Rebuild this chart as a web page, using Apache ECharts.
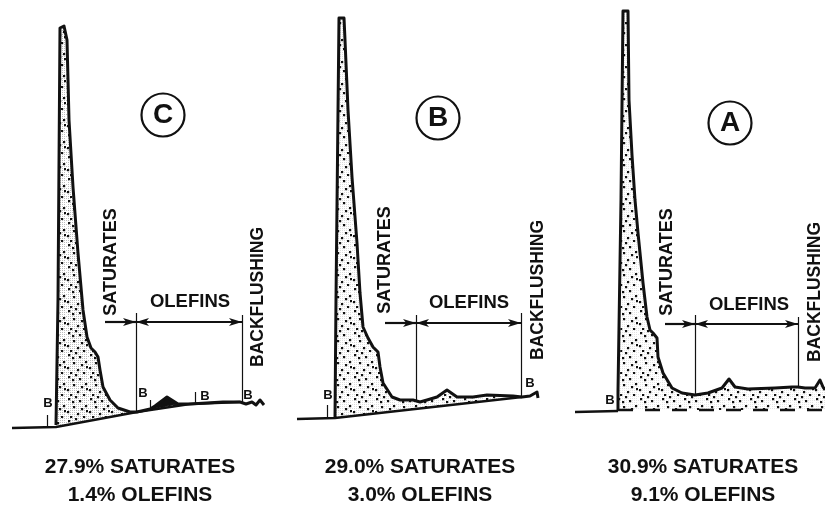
<!DOCTYPE html>
<html><head><meta charset="utf-8">
<script src="https://cdn.jsdelivr.net/npm/echarts@6/dist/echarts.min.js"></script>
<style>html,body{margin:0;padding:0;background:#fff}#c{width:825px;height:505px}</style>
</head><body><div id="c"></div>
<script>
// ---- Data (x: retention units, y: detector response units) ----
const curveC = [[56,5],[58,130],[60,402],[64,404],[67,390],[69,310],[73,243],[78,177],[83,120],[87,93],[91,82],[95,78],[98,73],[100,60],[103,43],[110,30],[118,22],[130,18],[137,18],[150,21],[155,24],[167,33],[178,26],[190,26],[223,28],[240,28],[246,26],[252,28],[256,25],[260,30],[264,25]];
const baseC = [[12,2],[56,3],[137,18],[190,26],[240,28]];
const curveB = [[60,12],[61,130],[64,412],[69,412],[70,390],[73,320],[77,253],[82,187],[85,137],[88,103],[93,92],[98,83],[103,78],[105,63],[108,47],[117,33],[125,30],[138,30],[145,28],[152,30],[162,33],[172,40],[182,33],[198,33],[212,35],[238,34],[247,33],[255,34],[262,38],[263,32]];
const baseB = [[22,11],[60,12],[247,33]];
const curveA = [[68,19],[68,39],[70,40],[71,230],[73,419],[78,419],[79,330],[82,275],[85,230],[88,197],[93,147],[97,113],[100,100],[103,97],[107,92],[108,73],[113,57],[122,42],[132,37],[145,35],[158,37],[172,42],[179,51],[185,43],[198,41],[225,42],[242,43],[248,43],[255,42],[265,42],[270,50],[273,43],[275,40]];
const leadA = [[25,18],[68,19]];
const baseA = [[68,20],[275,20]];
// small olefin peak of sample C shown solid: [from, to]
const solidPeakC = [150,178];

// region dividers: [x, yLow, yHigh]
const dividersC = [[136,18,117],[242,28,115]];
const dividersB = [[141,30,115],[246,34,117]];
const dividersA = [[145,35,115],[248,44,113]];
// arrow rows: [saturatesStart, divider1, divider2, y]
const arrowsC = [105,136,242,108];
const arrowsB = [110,141,246,107];
const arrowsA = [115,145,248,106];
// "B" marker ticks [x, yTop, yBottom] and "B" letters [x, y]
const ticksC = [[47,15,3],[150,30,22],[195,38,27]];
const bLabelsC = [[48,27],[143,37],[205,34],[248,35]];
const ticksB = [[52,25,12]];
const bLabelsB = [[53,35],[255,47]];
const ticksA = [];
const bLabelsA = [[60,30]];
// sample letters and positions
const sampleNames = ['C','B','A'];
const sampleMarks = [[163,315],[163,312],[180,307]];
// annotation text positions [saturates, olefins, backflushing]
const satPos = [[111,168],[110,170],[117,168]];
const olePos = [[190,128],[194,127],[199,125]];
const backPos = [[258,133],[263,140],[265,138]];
const summarySat = ['27.9% SATURATES','29.0% SATURATES','30.9% SATURATES'];
const summaryOle = ['1.4% OLEFINS','3.0% OLEFINS','9.1% OLEFINS'];

// ---- Rendering ----
const FONT = '"Liberation Sans", Arial, sans-serif';
const INK = '#111';

function makePattern(tone){
  const c = document.createElement('canvas');
  c.width = 22; c.height = 22;
  const g = c.getContext('2d');
  g.fillStyle = '#fff'; g.fillRect(0,0,22,22);
  g.fillStyle = tone;
  for (let i=0;i<22;i+=2) for (let j=(i%4);j<22;j+=2) g.fillRect(j,i,1,1);
  g.fillStyle = '#111';
  const dots = [[2,2],[13,4],[7,10],[19,9],[1,15],[11,17],[17,20],[20,14],[6,5],[15,12],[4,20],[9,0]];
  dots.forEach(d => g.fillRect(d[0],d[1],2.2,2.2));
  return c;
}
const patterns = [
  {image: makePattern('#bdbdbd'), repeat: 'repeat'},
  {image: makePattern('#dcdcdc'), repeat: 'repeat'},
  {image: makePattern('#e4e4e4'), repeat: 'repeat'}
];

const panels = [
  {curve: curveC, base: baseC, lead: null, dashed: false, div: dividersC, arr: arrowsC, ticks: ticksC, bl: bLabelsC, solid: solidPeakC},
  {curve: curveB, base: baseB, lead: null, dashed: false, div: dividersB, arr: arrowsB, ticks: ticksB, bl: bLabelsB, solid: null},
  {curve: curveA, base: baseA, lead: leadA, dashed: true, div: dividersA, arr: arrowsA, ticks: ticksA, bl: bLabelsA, solid: null}
];
const gridW = 275;
const grids = [], xAxes = [], yAxes = [], series = [], graphics = [];

panels.forEach((p, i) => {
  grids.push({left: i*gridW, width: gridW, top: 5, height: 425, containLabel: false});
  xAxes.push({type:'value', gridIndex:i, min:0, max:275, show:false});
  yAxes.push({type:'value', gridIndex:i, min:0, max:425, show:false});
  const x0 = p.curve[0][0];
  const xEnd = p.base[p.base.length-1][0];
  // filled area between trace and baseline
  series.push({
    type:'custom', xAxisIndex:i, yAxisIndex:i, silent:true, z:1, data:[[0,0]],
    renderItem: (params, api) => {
      const top = p.curve.filter(q => q[0] <= xEnd).map(q => api.coord(q));
      const bot = p.base.filter(q => q[0] >= x0).slice().reverse().map(q => api.coord(q));
      const children = [{type:'polygon', shape:{points: top.concat(bot)}, style:{fill: patterns[i], stroke: null}}];
      if (p.solid) {
        const pk = p.curve.filter(q => q[0] >= p.solid[0] && q[0] <= p.solid[1]).map(q => api.coord(q));
        children.push({type:'polygon', shape:{points: pk}, style:{fill: INK, stroke: INK, lineWidth: 1}});
      }
      return {type:'group', children: children};
    }
  });
  // baseline
  series.push({type:'line', xAxisIndex:i, yAxisIndex:i, data:p.base, symbol:'none', silent:true, z:2, clip:false,
    lineStyle:{color:INK, width:2.4, type: p.dashed ? [15,12] : 'solid'}});
  if (p.lead) series.push({type:'line', xAxisIndex:i, yAxisIndex:i, data:p.lead, symbol:'none', silent:true, z:2, clip:false,
    lineStyle:{color:INK, width:2.6}});
  // markers
  const ml = [];
  p.div.forEach(d => ml.push([{coord:[d[0],d[1]]},{coord:[d[0],d[2]]}]));
  p.ticks.forEach(t => ml.push([{coord:[t[0],t[1]]},{coord:[t[0],t[2]]}]));
  const a = p.arr;
  ml.push([{coord:[a[0],a[3]], symbol:'none', lineStyle:{width:2.2}},{coord:[a[1],a[3]], symbol:'arrow', symbolSize:[6,13]}]);
  ml.push([{coord:[a[1],a[3]], symbol:'arrow', symbolSize:[6,13], lineStyle:{width:2.2}},{coord:[a[2],a[3]], symbol:'arrow', symbolSize:[6,13]}]);
  const txt = (pos, text, size, rot, weight) => ({coord:pos, symbol:'rect', symbolSize:1, itemStyle:{color:'rgba(0,0,0,0)'},
    label:{show:true, position:'inside', formatter:text, rotate:rot, fontSize:size, fontWeight:weight, fontFamily:FONT, color:INK}});
  const mp = [];
  mp.push(txt(satPos[i], 'SATURATES', 18, 90, 'bold'));
  mp.push(txt(olePos[i], 'OLEFINS', 18.5, 0, 'bold'));
  mp.push(txt(backPos[i], 'BACKFLUSHING', 17.5, 90, 'bold'));
  p.bl.forEach(b => mp.push(txt(b, 'B', 13, 0, 'bold')));
  mp.push({coord: sampleMarks[i], symbol:'circle', symbolSize:43,
    itemStyle:{color:'#fff', borderColor:INK, borderWidth:2.2},
    label:{show:true, position:'inside', formatter: sampleNames[i], fontSize:28, fontWeight:'bold', fontFamily:FONT, color:INK}});
  // trace
  series.push({type:'line', xAxisIndex:i, yAxisIndex:i, data:p.curve, symbol:'none', silent:true, z:3, clip:false,
    lineStyle:{color:INK, width:3, join:'round'},
    markLine:{silent:true, symbol:['none','none'], label:{show:false}, lineStyle:{color:INK, width:1.2, type:'solid'}, data: ml},
    markPoint:{silent:true, data: mp}
  });
  const cx = [140, 420, 703][i];
  graphics.push({type:'text', x:cx, y:467, style:{text: summarySat[i], fontSize:21, fontWeight:'bold', fontFamily:FONT, align:'center', verticalAlign:'middle', fill:INK}});
  graphics.push({type:'text', x:cx, y:495, style:{text: summaryOle[i], fontSize:21, fontWeight:'bold', fontFamily:FONT, align:'center', verticalAlign:'middle', fill:INK}});
});

const chart = echarts.init(document.getElementById('c'), null, {renderer:'canvas'});
chart.setOption({
  animation:false, backgroundColor:'#fff',
  grid: grids, xAxis: xAxes, yAxis: yAxes, series: series, graphic: graphics
});
</script></body></html>
